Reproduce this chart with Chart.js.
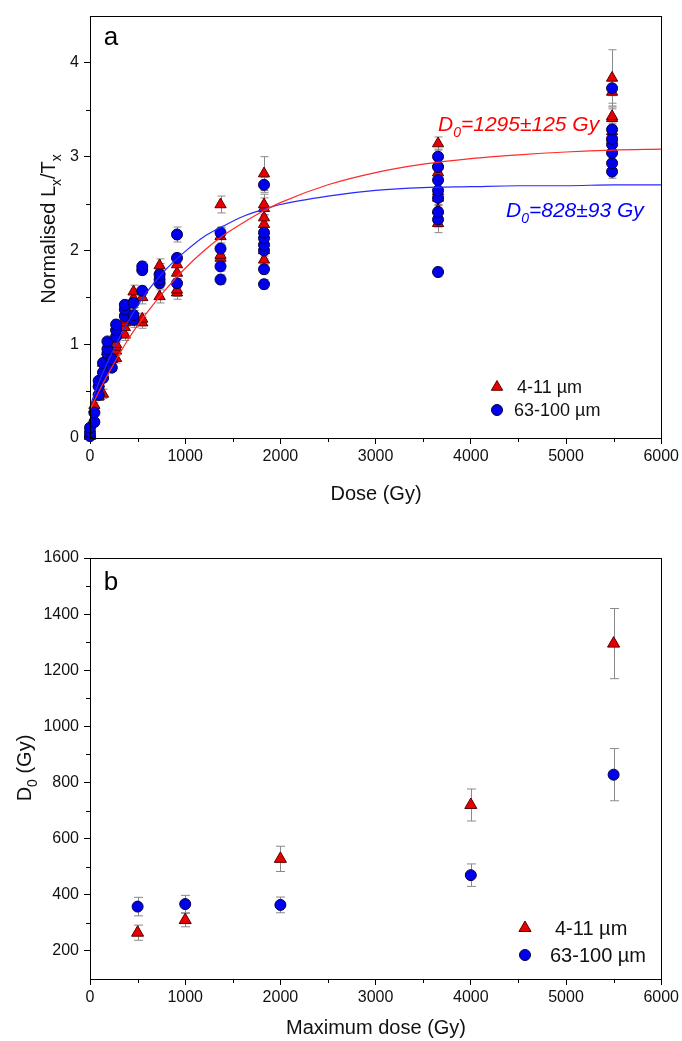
<!DOCTYPE html>
<html>
<head>
<meta charset="utf-8">
<script src="https://cdn.jsdelivr.net/npm/chart.js@4.4.0/dist/chart.umd.min.js"></script>
<style>
  html, body { margin: 0; padding: 0; background: #fff; }
  #chartA { position: absolute; left: 0; top: 0; }
  #chartB { position: absolute; left: 0; top: 520px; }
</style>
</head>
<body>
<canvas id="chartA" width="682" height="520"></canvas>
<canvas id="chartB" width="682" height="521"></canvas>
<script>
// ---- panel a: normalised Lx/Tx vs dose, one list of values per dose step ----
const redDoses = [0, 46, 91, 137, 183, 229, 274, 366, 457, 549, 731, 914, 1371, 1828, 3656, 5484];
const redLxTx = [
  [0.02, 0.04], [0.31, 0.35], [0.44, 0.50, 0.58], [0.47, 0.72, 0.80], [0.78, 0.86, 0.92],
  [0.84, 0.90], [0.85, 0.93, 0.97, 1.00], [1.10, 1.18, 1.23, 1.26], [1.24, 1.30, 1.49, 1.56],
  [1.23, 1.27, 1.50], [1.51, 1.79, 1.84], [1.55, 1.58, 1.76, 1.85], [1.92, 1.95, 2.15, 2.49],
  [1.90, 2.00, 2.28, 2.35, 2.45, 2.49, 2.82], [2.29, 2.43, 2.56, 2.63, 2.83, 2.93, 3.14],
  [3.20, 3.27, 3.41, 3.43, 3.69, 3.84]
];
const redErr = [
  [0.01, 0.01], [0.03, 0.03], [0.04, 0.04, 0.04], [0.05, 0.05, 0.05], [0.05, 0.05, 0.05],
  [0.05, 0.05], [0.05, 0.05, 0.05, 0.05], [0.06, 0.06, 0.06, 0.06], [0.06, 0.06, 0.10, 0.07],
  [0.06, 0.06, 0.07], [0.07, 0.07, 0.07], [0.07, 0.07, 0.08, 0.08], [0.08, 0.08, 0.09, 0.09],
  [0.09, 0.09, 0.10, 0.10, 0.11, 0.11, 0.18], [0.10, 0.10, 0.10, 0.10, 0.06, 0.06, 0.07],
  [0.08, 0.08, 0.10, 0.10, 0.12, 0.30]
];
const blueDoses = [0, 46, 91, 137, 183, 229, 274, 366, 457, 549, 731, 914, 1371, 1828, 3656, 5484];
const blueLxTx = [
  [0.02, 0.06, 0.11], [0.17, 0.27], [0.46, 0.55, 0.61], [0.64, 0.70, 0.80], [0.90, 0.95, 1.03],
  [0.75, 0.84], [1.08, 1.15, 1.21], [1.30, 1.37, 1.42], [1.26, 1.31, 1.44], [1.57, 1.79, 1.83],
  [1.65, 1.69, 1.74], [1.65, 1.92, 2.17], [1.69, 1.83, 2.02, 2.19],
  [1.64, 1.80, 2.00, 2.06, 2.13, 2.19, 2.70], [1.77, 2.33, 2.41, 2.56, 2.64, 2.75, 2.89, 3.00],
  [2.84, 2.93, 3.04, 3.13, 3.19, 3.29, 3.73]
];
const blueErr = [
  [0.01, 0.01, 0.01], [0.02, 0.02], [0.03, 0.03, 0.03], [0.04, 0.04, 0.04], [0.04, 0.04, 0.04],
  [0.04, 0.04], [0.05, 0.05, 0.05], [0.05, 0.05, 0.05], [0.05, 0.05, 0.05], [0.05, 0.05, 0.05],
  [0.05, 0.05, 0.05], [0.05, 0.05, 0.08], [0.05, 0.05, 0.06, 0.06],
  [0.05, 0.05, 0.06, 0.06, 0.06, 0.06, 0.08], [0.05, 0.08, 0.08, 0.08, 0.08, 0.08, 0.08, 0.08],
  [0.07, 0.07, 0.08, 0.08, 0.08, 0.08, 0.08]
];

// saturating fit curves
const fitDose = [0, 100, 200, 300, 400, 500, 600, 800, 1000, 1200, 1400, 1600, 1800, 2000, 2500, 3000, 3500, 4000, 4500, 5000, 5500, 6000];
const fitRed = [0.30, 0.51, 0.70, 0.88, 1.05, 1.20, 1.34, 1.59, 1.81, 2.00, 2.16, 2.29, 2.41, 2.51, 2.70, 2.83, 2.92, 2.98, 3.02, 3.05, 3.07, 3.08];
const fitBlue = [0.34, 0.61, 0.84, 1.05, 1.24, 1.41, 1.56, 1.80, 1.99, 2.15, 2.26, 2.36, 2.43, 2.49, 2.58, 2.64, 2.67, 2.68, 2.69, 2.69, 2.70, 2.70];

// ---- panel b: D0 vs maximum dose ----
const maxDose = [500, 1000, 2000, 4000, 5500];
const d0Red = [265, 310, 528, 720, 1295];
const d0RedErr = [27, 24, 45, 57, 125];
const d0Blue = [358, 367, 364, 470, 828];
const d0BlueErr = [33, 31, 28, 40, 93];

// ticks
const xTicks = [0, 1000, 2000, 3000, 4000, 5000, 6000];
const xMinor = [500, 1500, 2500, 3500, 4500, 5500];
const yTicksA = [0, 1, 2, 3, 4];
const yMinorA = [0.5, 1.5, 2.5, 3.5];
const yTicksB = [200, 400, 600, 800, 1000, 1200, 1400, 1600];
const yMinorB = [300, 500, 700, 900, 1100, 1300, 1500];

const FONT = "'Liberation Sans', Arial, sans-serif";
const RED = '#e80000', RED_EDGE = '#5a0000';
const BLUE = '#0000ee', BLUE_EDGE = '#000040';

function buildPoints(doses, values, errors) {
  const pts = [];
  doses.forEach((d, i) => values[i].forEach((v, j) => pts.push({ x: d, y: v, e: errors[i][j] })));
  return pts;
}

// text with subscripts: parts = [[text, isSub], ...], y is baseline
function drawRich(ctx, parts, x, y, size, opt) {
  const style = opt.italic ? 'italic ' : '';
  const sub = Math.round(size * 0.68);
  let total = 0;
  const w = parts.map(([t, s]) => {
    ctx.font = style + (s ? sub : size) + 'px ' + FONT;
    const m = ctx.measureText(t).width;
    total += m;
    return m;
  });
  let cx = opt.align === 'center' ? x - total / 2 : x;
  ctx.fillStyle = opt.color || '#111';
  ctx.textAlign = 'left';
  ctx.textBaseline = 'alphabetic';
  parts.forEach(([t, s], i) => {
    ctx.font = style + (s ? sub : size) + 'px ' + FONT;
    ctx.fillText(t, cx, y + (s ? size * 0.28 : 0));
    cx += w[i];
  });
}

const decor = {
  id: 'decor',
  beforeDatasetsDraw(chart, args, o) {
    // error bars, under the markers
    const { ctx, scales: { x, y } } = chart;
    ctx.save();
    ctx.strokeStyle = '#8a8a8a';
    ctx.lineWidth = 1;
    chart.data.datasets.forEach(ds => {
      ds.data.forEach(p => {
        if (p.e == null) return;
        const px = Math.round(x.getPixelForValue(p.x)) + 0.5;
        const top = y.getPixelForValue(p.y + p.e), bot = y.getPixelForValue(p.y - p.e);
        ctx.beginPath();
        ctx.moveTo(px, top); ctx.lineTo(px, bot);
        ctx.moveTo(px - o.cap, top); ctx.lineTo(px + o.cap, top);
        ctx.moveTo(px - o.cap, bot); ctx.lineTo(px + o.cap, bot);
        ctx.stroke();
      });
    });
    ctx.restore();
  },
  afterDraw(chart, args, o) {
    const { ctx, chartArea: a, scales: { x, y } } = chart;
    ctx.save();
    // frame
    ctx.strokeStyle = '#000';
    ctx.lineWidth = 1;
    ctx.strokeRect(Math.round(a.left) + 0.5, Math.round(a.top) + 0.5, Math.round(a.right - a.left), Math.round(a.bottom - a.top));
    // minor ticks
    ctx.beginPath();
    o.minorX.forEach(v => {
      const px = Math.round(x.getPixelForValue(v)) + 0.5;
      ctx.moveTo(px, a.bottom); ctx.lineTo(px, a.bottom + 4);
    });
    o.minorY.forEach(v => {
      const py = Math.round(y.getPixelForValue(v)) + 0.5;
      ctx.moveTo(a.left, py); ctx.lineTo(a.left - 4, py);
    });
    ctx.stroke();
    // panel letter
    ctx.fillStyle = '#000';
    ctx.font = '26px ' + FONT;
    ctx.textAlign = 'center';
    ctx.textBaseline = 'middle';
    ctx.fillText(o.letter.text, o.letter.x, o.letter.y);
    // axis titles
    drawRich(ctx, o.xTitle.parts, o.xTitle.x, o.xTitle.y + 7, 20, { align: 'center' });
    ctx.save();
    ctx.translate(o.yTitle.x, o.yTitle.y);
    ctx.rotate(-Math.PI / 2);
    drawRich(ctx, o.yTitle.parts, 0, 7, 20, { align: 'center' });
    ctx.restore();
    // annotations
    (o.notes || []).forEach(n => drawRich(ctx, n.parts, n.x, n.y, 21, { italic: true, color: n.color }));
    // legend
    o.legend.forEach(l => {
      ctx.fillStyle = l.fill;
      ctx.strokeStyle = l.edge;
      Chart.helpers.drawPoint(ctx, { pointStyle: l.style, radius: l.r, rotation: 0, borderWidth: 1 }, l.x, l.y);
      ctx.fillStyle = '#111';
      ctx.font = l.size + 'px ' + FONT;
      ctx.textAlign = 'left';
      ctx.textBaseline = 'middle';
      ctx.fillText(l.text, l.tx, l.y + 1);
    });
    ctx.restore();
  }
};

function axes(yMin, yMax, yTicks, xHeight) {
  const tickFont = { family: FONT, size: 16 };
  return {
    x: {
      type: 'linear', min: 0, max: 6000,
      afterBuildTicks: s => { s.ticks = xTicks.map(v => ({ value: v })); },
      afterFit: s => { s.height = xHeight; },
      grid: { drawOnChartArea: false, drawTicks: true, tickLength: 6, color: '#000' },
      border: { color: '#000', width: 1 },
      ticks: { font: tickFont, color: '#111', padding: 3, maxRotation: 0, autoSkip: false, callback: v => String(v) }
    },
    y: {
      type: 'linear', min: yMin, max: yMax,
      afterBuildTicks: s => { s.ticks = yTicks.map(v => ({ value: v })); },
      afterFit: s => { s.width = 90; },
      grid: { drawOnChartArea: false, drawTicks: true, tickLength: 6, color: '#000' },
      border: { color: '#000', width: 1 },
      ticks: { font: tickFont, color: '#111', padding: 5, autoSkip: false, callback: v => String(v) }
    }
  };
}

Chart.defaults.animation = false;

new Chart(document.getElementById('chartA'), {
  type: 'scatter',
  data: {
    datasets: [
      { data: fitDose.map((d, i) => ({ x: d, y: fitRed[i] })), showLine: true, borderColor: '#ff2a2a', borderWidth: 1.2,
        pointRadius: 0, cubicInterpolationMode: 'monotone', order: 0 },
      { data: fitDose.map((d, i) => ({ x: d, y: fitBlue[i] })), showLine: true, borderColor: '#2a2aff', borderWidth: 1.2,
        pointRadius: 0, cubicInterpolationMode: 'monotone', order: 0 },
      { label: '4-11 µm', data: buildPoints(redDoses, redLxTx, redErr), pointStyle: 'triangle', pointRadius: 6.5,
        backgroundColor: RED, borderColor: RED_EDGE, borderWidth: 1, order: 2, clip: false },
      { label: '63-100 µm', data: buildPoints(blueDoses, blueLxTx, blueErr), pointStyle: 'circle', pointRadius: 5.5,
        backgroundColor: BLUE, borderColor: BLUE_EDGE, borderWidth: 1, order: 1, clip: false }
    ]
  },
  options: {
    responsive: false,
    devicePixelRatio: 1,
    layout: { padding: { top: 16, right: 20, left: 0, bottom: 0 } },
    scales: axes(0, 4.5, yTicksA, 82),
    plugins: {
      legend: { display: false },
      tooltip: { enabled: false },
      decor: {
        cap: 4,
        minorX: xMinor, minorY: yMinorA,
        letter: { text: 'a', x: 111, y: 38 },
        xTitle: { parts: [['Dose (Gy)', 0]], x: 376, y: 493 },
        yTitle: { parts: [['Normalised L', 0], ['x', 1], ['/T', 0], ['x', 1]], x: 48, y: 229 },
        notes: [
          { parts: [['D', 0], ['0', 1], ['=1295±125 Gy', 0]], x: 438, y: 131, color: '#ff0000' },
          { parts: [['D', 0], ['0', 1], ['=828±93 Gy', 0]], x: 506, y: 217, color: '#0000ff' }
        ],
        legend: [
          { style: 'triangle', r: 6.5, fill: RED, edge: RED_EDGE, text: '4-11 µm', x: 497, y: 387, tx: 517, size: 18 },
          { style: 'circle', r: 5.5, fill: BLUE, edge: BLUE_EDGE, text: '63-100 µm', x: 497, y: 410, tx: 514, size: 18 }
        ]
      }
    }
  },
  plugins: [decor]
});

new Chart(document.getElementById('chartB'), {
  type: 'scatter',
  data: {
    datasets: [
      { label: '4-11 µm', data: maxDose.map((d, i) => ({ x: d, y: d0Red[i], e: d0RedErr[i] })), pointStyle: 'triangle',
        pointRadius: 7, backgroundColor: RED, borderColor: RED_EDGE, borderWidth: 1, order: 2, clip: false },
      { label: '63-100 µm', data: maxDose.map((d, i) => ({ x: d, y: d0Blue[i], e: d0BlueErr[i] })), pointStyle: 'circle',
        pointRadius: 5.5, backgroundColor: BLUE, borderColor: BLUE_EDGE, borderWidth: 1, order: 1, clip: false }
    ]
  },
  options: {
    responsive: false,
    devicePixelRatio: 1,
    layout: { padding: { top: 38, right: 20, left: 0, bottom: 0 } },
    scales: axes(100, 1600, yTicksB, 62),
    plugins: {
      legend: { display: false },
      tooltip: { enabled: false },
      decor: {
        cap: 4.5,
        minorX: xMinor, minorY: yMinorB,
        letter: { text: 'b', x: 111, y: 63 },
        xTitle: { parts: [['Maximum dose (Gy)', 0]], x: 376, y: 507 },
        yTitle: { parts: [['D', 0], ['0', 1], [' (Gy)', 0]], x: 24, y: 248 },
        legend: [
          { style: 'triangle', r: 7, fill: RED, edge: RED_EDGE, text: '4-11 µm', x: 525, y: 408, tx: 555, size: 20 },
          { style: 'circle', r: 5.5, fill: BLUE, edge: BLUE_EDGE, text: '63-100 µm', x: 525, y: 435, tx: 550, size: 20 }
        ]
      }
    }
  },
  plugins: [decor]
});
</script>
</body>
</html>
